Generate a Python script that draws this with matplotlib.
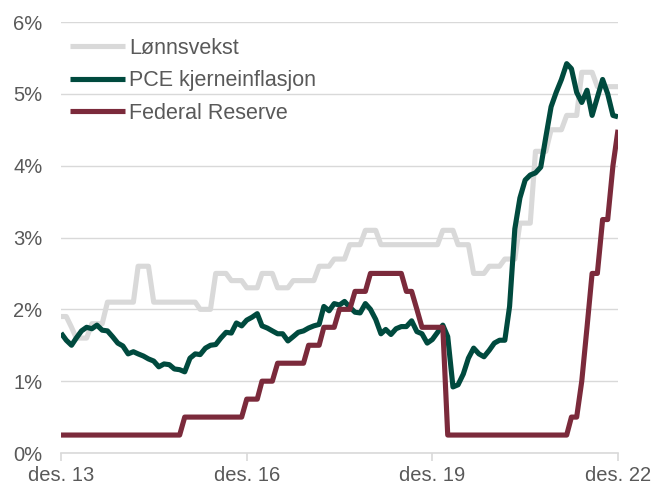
import matplotlib
matplotlib.use("Agg")
import matplotlib.pyplot as plt
import pandas as pd

# monthly observations, Dec 2013 - Dec 2022
months = pd.date_range("2013-12-01", "2022-12-01", freq="MS")

# wage growth (quarterly figures held for each month), %
wage = [
    1.9,
    1.9, 1.75, 1.6, 1.6, 1.6, 1.8, 1.8, 1.8, 2.1, 2.1, 2.1, 2.1,
    2.1, 2.1, 2.6, 2.6, 2.6, 2.1, 2.1, 2.1, 2.1, 2.1, 2.1, 2.1,
    2.1, 2.1, 2.0, 2.0, 2.0, 2.5, 2.5, 2.5, 2.4, 2.4, 2.4, 2.3,
    2.3, 2.3, 2.5, 2.5, 2.5, 2.3, 2.3, 2.3, 2.4, 2.4, 2.4, 2.4,
    2.4, 2.6, 2.6, 2.6, 2.7, 2.7, 2.7, 2.9, 2.9, 2.9, 3.1, 3.1,
    3.1, 2.9, 2.9, 2.9, 2.9, 2.9, 2.9, 2.9, 2.9, 2.9, 2.9, 2.9,
    2.9, 3.1, 3.1, 3.1, 2.9, 2.9, 2.9, 2.5, 2.5, 2.5, 2.6, 2.6,
    2.6, 2.7, 2.7, 2.7, 3.2, 3.2, 3.2, 4.2, 4.2, 4.2, 4.5, 4.5,
    4.5, 4.7, 4.7, 4.7, 5.3, 5.3, 5.3, 5.1, 5.1, 5.1, 5.1, 5.1,
]

# core PCE inflation, y/y %
pce = [
    1.67,
    1.57, 1.50, 1.60, 1.70, 1.75, 1.73, 1.78, 1.71, 1.70, 1.62, 1.53, 1.49,
    1.38, 1.41, 1.38, 1.35, 1.31, 1.28, 1.20, 1.24, 1.23, 1.17, 1.16, 1.13,
    1.32, 1.38, 1.37, 1.46, 1.50, 1.51, 1.60, 1.68, 1.67, 1.81, 1.77, 1.85,
    1.89, 1.94, 1.77, 1.74, 1.70, 1.66, 1.66, 1.56, 1.62, 1.68, 1.70, 1.74,
    1.77, 1.79, 2.04, 1.98, 2.08, 2.06, 2.11, 2.03, 1.96, 1.95, 2.08, 2.00,
    1.86, 1.66, 1.72, 1.65, 1.73, 1.76, 1.76, 1.84, 1.69, 1.66, 1.53, 1.58,
    1.68, 1.78, 1.62, 0.92, 0.95, 1.10, 1.32, 1.46, 1.38, 1.34, 1.43, 1.53,
    1.57, 1.57, 2.04, 3.12, 3.55, 3.80, 3.87, 3.90, 3.98, 4.40, 4.82, 5.02,
    5.20, 5.42, 5.35, 5.02, 4.88, 5.05, 4.70, 4.95, 5.20, 5.00, 4.70, 4.68,
]

# fed funds target, upper bound %
fed = [
    0.25,
    0.25, 0.25, 0.25, 0.25, 0.25, 0.25, 0.25, 0.25, 0.25, 0.25, 0.25, 0.25,
    0.25, 0.25, 0.25, 0.25, 0.25, 0.25, 0.25, 0.25, 0.25, 0.25, 0.25, 0.5,
    0.5, 0.5, 0.5, 0.5, 0.5, 0.5, 0.5, 0.5, 0.5, 0.5, 0.5, 0.75,
    0.75, 0.75, 1.0, 1.0, 1.0, 1.25, 1.25, 1.25, 1.25, 1.25, 1.25, 1.5,
    1.5, 1.5, 1.75, 1.75, 1.75, 2.0, 2.0, 2.0, 2.25, 2.25, 2.25, 2.5,
    2.5, 2.5, 2.5, 2.5, 2.5, 2.5, 2.25, 2.25, 2.0, 1.75, 1.75, 1.75,
    1.75, 1.75, 0.25, 0.25, 0.25, 0.25, 0.25, 0.25, 0.25, 0.25, 0.25, 0.25,
    0.25, 0.25, 0.25, 0.25, 0.25, 0.25, 0.25, 0.25, 0.25, 0.25, 0.25, 0.25,
    0.25, 0.25, 0.5, 0.5, 1.0, 1.75, 2.5, 2.5, 3.25, 3.25, 4.0, 4.5,
]

labels = ["Lønnsvekst", "PCE kjerneinflasjon", "Federal Reserve"]
colors = ["#d9d9d9", "#004a3e", "#7b2a3b"]
tick_dates = pd.to_datetime(["2013-12-01", "2016-12-01", "2019-12-01", "2022-12-01"])
tick_labels = ["des. 13", "des. 16", "des. 19", "des. 22"]

plt.rcParams["font.family"] = ["Liberation Sans", "DejaVu Sans"]
text_col = "#595959"
grid_col = "#d9d9d9"

fig = plt.figure(figsize=(6.54, 4.87), dpi=100)
ax = fig.add_axes([0.0933, 0.0698, 0.8517, 0.885])

for series, lab, col in zip([wage, pce, fed], labels, colors):
    ax.plot(months, series, color=col, lw=3.7, label=lab,
            solid_joinstyle="round", solid_capstyle="butt")

ax.set_xlim(months[0], months[-1])
ax.set_ylim(0, 6)
ax.set_yticks(range(7))
ax.set_yticklabels([f"{v}%" for v in range(7)])
ax.set_xticks(tick_dates)
ax.set_xticklabels(tick_labels)
ax.minorticks_off()

ax.grid(axis="y", color=grid_col, lw=1)
ax.set_axisbelow(True)
for side in ["top", "right", "left"]:
    ax.spines[side].set_visible(False)
ax.spines["bottom"].set_color(grid_col)
ax.spines["bottom"].set_linewidth(1.2)
ax.tick_params(axis="y", length=0, pad=13.5, labelsize=14.5, labelcolor=text_col)
ax.tick_params(axis="x", length=6, width=1.2, color=grid_col, pad=3,
               labelsize=14.5, labelcolor=text_col)

leg = ax.legend(loc="upper left", bbox_to_anchor=(0.0, 0.984), frameon=False,
                fontsize=15.5, handlelength=2.56, handletextpad=0.19,
                labelspacing=0.54, borderaxespad=0.2, borderpad=0.2)
for t in leg.get_texts():
    t.set_color(text_col)

fig.savefig("out.png", dpi=100)
